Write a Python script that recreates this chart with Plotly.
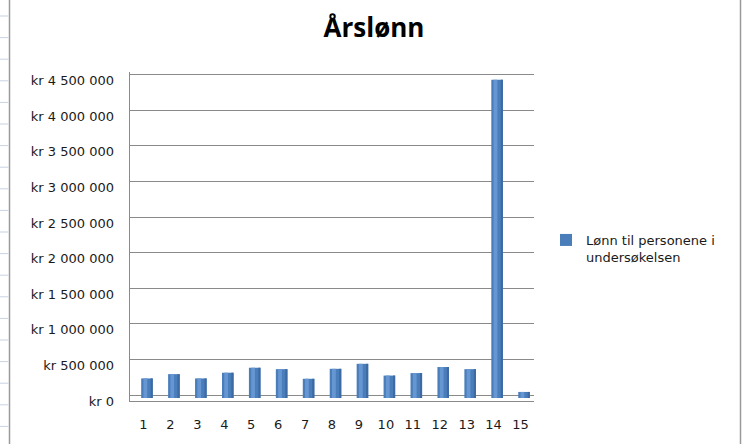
import plotly.graph_objects as go

# ---- data ----
persons = [str(i) for i in range(1, 16)]
salaries = [275000, 335000, 275000, 355000, 425000, 405000, 270000, 410000,
            480000, 315000, 350000, 435000, 405000, 4470000, 85000]
series_name = "Lønn til personene i<br>undersøkelsen"
title_text = "Årslønn"
ytick_vals = [0, 500000, 1000000, 1500000, 2000000, 2500000, 3000000, 3500000, 4000000, 4500000]
ytick_text = ["kr 0", "kr 500 000", "kr 1 000 000", "kr 1 500 000", "kr 2 000 000",
              "kr 2 500 000", "kr 3 000 000", "kr 3 500 000", "kr 4 000 000", "kr 4 500 000"]

W, H = 742, 444
L, R, T, B = 130, 208, 72, 43
PW, PH = W - L - R, H - T - B
UPP = 14045.0  # value units per pixel

FONT = "DejaVu Sans"
TXT = "#1a1a1a"
GRID = "#8a8a8a"

def px(xp):
    return (xp - L) / PW

def py(yp):
    return (H - B - yp) / PH

fig = go.Figure()
# cylinder-like bars: base, highlight, shadow
fig.add_trace(go.Bar(x=persons, y=salaries, name=series_name, width=0.43, offset=-0.085,
                     marker=dict(color="#4A7EBB", line=dict(width=0)), showlegend=True))
fig.add_trace(go.Bar(x=persons, y=salaries, width=0.14, offset=0.0,
                     marker=dict(color="#6797D2", line=dict(width=0)), showlegend=False,
                     hoverinfo="skip"))
fig.add_trace(go.Bar(x=persons, y=salaries, width=0.08, offset=0.265,
                     marker=dict(color="#3D6AA3", line=dict(width=0)), showlegend=False,
                     hoverinfo="skip"))
# invisible helper trace on grid axis
fig.add_trace(go.Scatter(x=[persons[0]], y=[0], yaxis="y2", mode="markers",
                         marker=dict(opacity=0), showlegend=False, hoverinfo="skip"))

shapes = []
# chart area borders
shapes.append(dict(type="line", xref="paper", yref="paper", x0=px(9.5), x1=px(9.5),
                   y0=py(-5), y1=py(H + 5), line=dict(color="#9a9a9a", width=1.5)))
shapes.append(dict(type="line", xref="paper", yref="paper", x0=px(740.5), x1=px(740.5),
                   y0=py(-5), y1=py(H + 5), line=dict(color="#9a9a9a", width=1.5)))
# spreadsheet cell lines at left
yy = 16.0
while yy < H:
    shapes.append(dict(type="line", xref="paper", yref="paper", x0=px(0), x1=px(8.5),
                       y0=py(yy), y1=py(yy), line=dict(color="#c9d3e3", width=1)))
    yy += 21.6

fig.update_layout(
    width=W, height=H,
    margin=dict(l=L, r=R, t=T, b=B, pad=0),
    paper_bgcolor="white", plot_bgcolor="rgba(0,0,0,0)",
    barmode="overlay",
    font=dict(family=FONT, size=13, color=TXT),
    title=dict(text="<b>" + title_text + "</b>", x=374 / W, xref="container", xanchor="center",
               y=1 - 28 / H, yref="container", yanchor="middle",
               font=dict(family="Open Sans", size=26, color="#000000")),
    xaxis=dict(type="category", range=[-0.5, 14.5], showgrid=False, zeroline=False,
               showline=True, linecolor=GRID, linewidth=1, ticks="",
               ticklabelstandoff=11, tickfont=dict(size=13, color=TXT)),
    yaxis=dict(range=[-3 * UPP, (H - B - 3 - T) * UPP], showgrid=False, zeroline=False,
               showline=False, ticks="", tickvals=ytick_vals, ticktext=ytick_text,
               ticklabelshift=3, ticklabelstandoff=15, tickfont=dict(size=13, color=TXT)),
    yaxis2=dict(overlaying="y", anchor="x", side="left",
                range=[-6 * UPP, (H - B - 6 - T) * UPP], showgrid=True, gridcolor=GRID,
                gridwidth=1.2, zeroline=False, showline=True, linecolor=GRID, linewidth=1,
                tickvals=ytick_vals, showticklabels=False, ticks=""),
    legend=dict(x=px(546), y=py(225), xanchor="left", yanchor="top", valign="top",
                font=dict(family=FONT, size=13, color=TXT), bgcolor="rgba(0,0,0,0)",
                tracegroupgap=0),
    shapes=shapes,
    showlegend=True,
)

fig.write_html("out.html")
